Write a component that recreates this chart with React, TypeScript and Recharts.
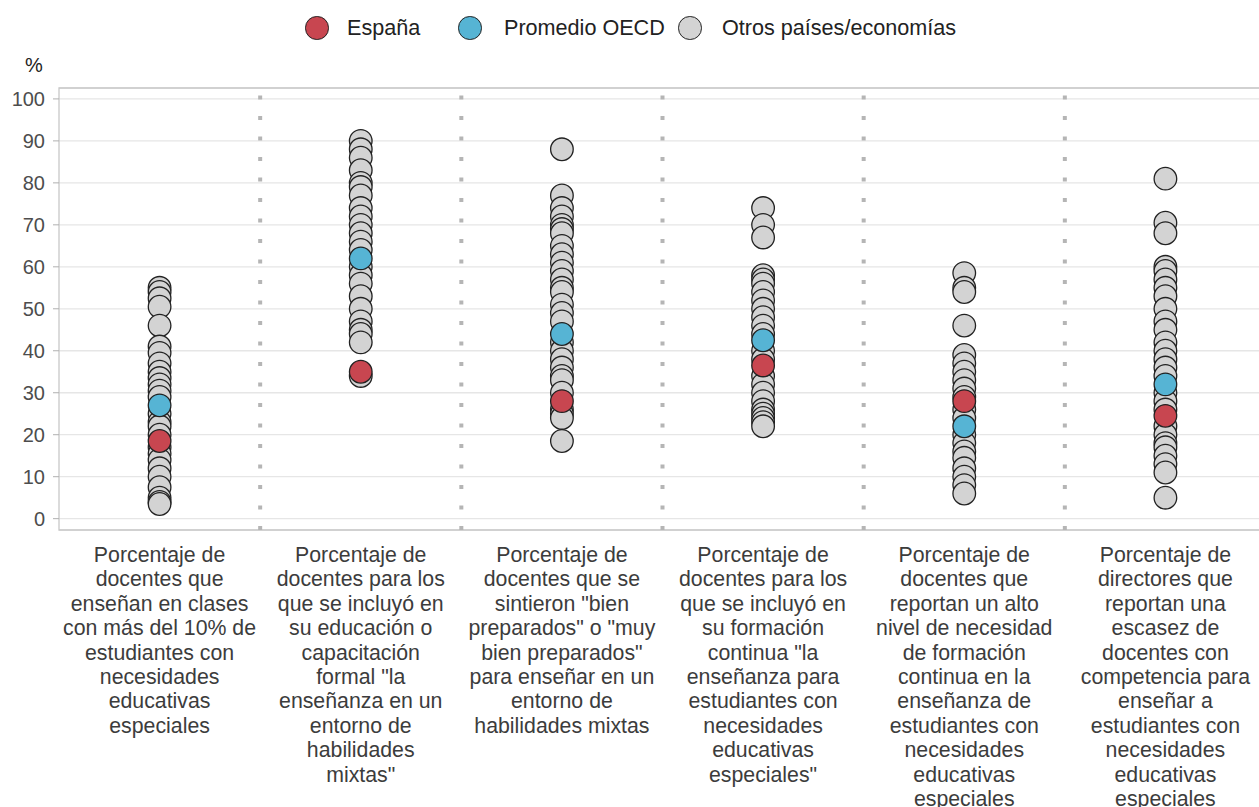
import React from 'react';
import {
  CartesianGrid,
  ReferenceArea,
  ReferenceLine,
  Scatter,
  ScatterChart,
  XAxis,
  YAxis,
} from 'recharts';

// etiquetas del eje X (una línea por elemento)
const categoryLabels = [
  ['Porcentaje de', 'docentes que', 'enseñan en clases', 'con más del 10% de', 'estudiantes con', 'necesidades', 'educativas', 'especiales'],
  ['Porcentaje de', 'docentes para los', 'que se incluyó en', 'su educación o', 'capacitación', 'formal "la', 'enseñanza en un', 'entorno de', 'habilidades', 'mixtas"'],
  ['Porcentaje de', 'docentes que se', 'sintieron "bien', 'preparados" o "muy', 'bien preparados"', 'para enseñar en un', 'entorno de', 'habilidades mixtas'],
  ['Porcentaje de', 'docentes para los', 'que se incluyó en', 'su formación', 'continua "la', 'enseñanza para', 'estudiantes con', 'necesidades', 'educativas', 'especiales"'],
  ['Porcentaje de', 'docentes que', 'reportan un alto', 'nivel de necesidad', 'de formación', 'continua en la', 'enseñanza de', 'estudiantes con', 'necesidades', 'educativas', 'especiales'],
  ['Porcentaje de', 'directores que', 'reportan una', 'escasez de', 'docentes con', 'competencia para', 'enseñar a', 'estudiantes con', 'necesidades', 'educativas', 'especiales'],
];

const yTicks = [0, 10, 20, 30, 40, 50, 60, 70, 80, 90, 100];

// otros países/economías, por indicador
const otrosClases = [55, 54, 52.5, 50.5, 46, 41, 39.5, 37, 35, 33.5, 32, 30.5, 29, 25, 23, 22, 20, 17, 15.5, 14, 12, 10, 7.5, 5, 4, 3.5];
const otrosFormal = [90, 88, 86, 83, 80, 79, 77, 74, 72, 70, 68, 66, 64, 60, 58, 56, 53, 50, 47, 45, 44, 42, 34];
const otrosPreparados = [88, 77, 74, 72, 70, 69, 68, 65, 63, 61, 59, 57, 55, 54, 51, 49, 47, 42, 40, 38, 36, 34, 33, 30, 26, 25, 24, 18.5];
const otrosContinua = [74, 70, 67, 58, 57, 56, 54, 52, 50, 48, 46, 44, 40, 38, 34, 32, 30, 28, 26, 25, 24, 23, 22];
const otrosNecesidad = [58.5, 55, 54, 46, 39, 37, 35, 33, 31, 29, 26, 24, 20, 18, 16, 14.5, 12, 10, 8, 6];
const otrosEscasez = [81, 70.5, 68, 60, 59, 57, 55, 53, 50, 47, 45, 42, 40, 38, 36, 34, 30, 28, 26, 22, 20, 18, 17, 15, 13, 11, 5];

const espana = [18.5, 35, 28, 36.5, 28, 24.5];
const oecd = [27, 62, 44, 42.5, 22, 32];

const otros = [otrosClases, otrosFormal, otrosPreparados, otrosContinua, otrosNecesidad, otrosEscasez];

const otrosData = otros.flatMap((vals, i) => vals.map((v) => ({ x: i + 1, y: v })));
const espanaData = espana.map((v, i) => ({ x: i + 1, y: v }));
const oecdData = oecd.map((v, i) => ({ x: i + 1, y: v }));
const separators = categoryLabels.slice(1).map((_, i) => i + 1.5);

const RED = '#c84650';
const BLUE = '#56b4d4';
const GRAY = '#d3d3d3';
const STROKE = '#222';
const FONT = 'Liberation Sans, Arial, sans-serif';

const dot = (fill: string) => (p: any) => (
  <circle cx={p.cx} cy={p.cy} r={11.3} fill={fill} stroke={STROKE} strokeWidth={1.3} />
);

function CategoryTick(props: any) {
  const { x, payload } = props;
  const lines = categoryLabels[Number(payload.value) - 1] ?? [];
  return (
    <text x={x} y={530} textAnchor='middle' fill='#3c3c3c' fontSize={21.3} fontFamily={FONT}>
      {lines.map((l, i) => (
        <tspan key={i} x={x} dy={i === 0 ? 32 : 24.4}>
          {l}
        </tspan>
      ))}
    </text>
  );
}

// leyenda: posiciones tomadas de la figura original
const legendItems = [
  { color: RED, label: 'España', cx: 317, tx: 347 },
  { color: BLUE, label: 'Promedio OECD', cx: 470, tx: 504 },
  { color: GRAY, label: 'Otros países/economías', cx: 690, tx: 722 },
];

export default function App() {
  return (
    <div
      style={{
        position: 'absolute',
        left: 0,
        top: 0,
        width: 1259,
        height: 807,
        overflow: 'hidden',
        background: '#fff',
        fontFamily: FONT,
      }}
    >
      {legendItems.map((it) => (
        <React.Fragment key={it.label}>
          <span
            style={{
              position: 'absolute',
              left: it.cx - 12,
              top: 16,
              width: 21.5,
              height: 21.5,
              borderRadius: '50%',
              background: it.color,
              border: `1.3px solid ${STROKE}`,
            }}
          />
          <span
            style={{
              position: 'absolute',
              left: it.tx,
              top: 15,
              fontSize: 21.6,
              lineHeight: '26px',
              color: '#222',
              whiteSpace: 'nowrap',
            }}
          >
            {it.label}
          </span>
        </React.Fragment>
      ))}
      <div style={{ position: 'absolute', top: 54, left: 25, fontSize: 20, color: '#222' }}>%</div>

      <ScatterChart width={1266} height={807} margin={{ top: 88, right: 0, bottom: 0, left: 0 }}>
        <CartesianGrid vertical={false} stroke='#e6e6e6' strokeWidth={1.3} />
        <ReferenceArea
          x1={0.5}
          x2={6.5}
          y1={-2.7}
          y2={102.6}
          fill='none'
          stroke='#c8c8c8'
          strokeWidth={1.3}
          fillOpacity={0}
        />
        {separators.map((s) => (
          <ReferenceLine key={s} x={s} stroke='#b5b5b5' strokeWidth={4} strokeDasharray='4 16.5' />
        ))}
        <XAxis
          type='number'
          dataKey='x'
          domain={[0.5, 6.5]}
          ticks={[1, 2, 3, 4, 5, 6]}
          axisLine={false}
          tickLine={false}
          height={277}
          interval={0}
          tick={<CategoryTick />}
          allowDataOverflow
        />
        <YAxis
          type='number'
          dataKey='y'
          domain={[-2.7, 102.6]}
          ticks={yTicks}
          width={59}
          axisLine={false}
          tickLine={{ stroke: '#b0b0b0' }}
          tickSize={6}
          tickMargin={8}
          tick={{ fill: '#4d4d4d', fontSize: 20, fontFamily: FONT }}
          allowDataOverflow
        />
        <Scatter name='Otros países/economías' data={otrosData} shape={dot(GRAY)} isAnimationActive={false} />
        <Scatter name='Promedio OECD' data={oecdData} shape={dot(BLUE)} isAnimationActive={false} />
        <Scatter name='España' data={espanaData} shape={dot(RED)} isAnimationActive={false} />
      </ScatterChart>
    </div>
  );
}
